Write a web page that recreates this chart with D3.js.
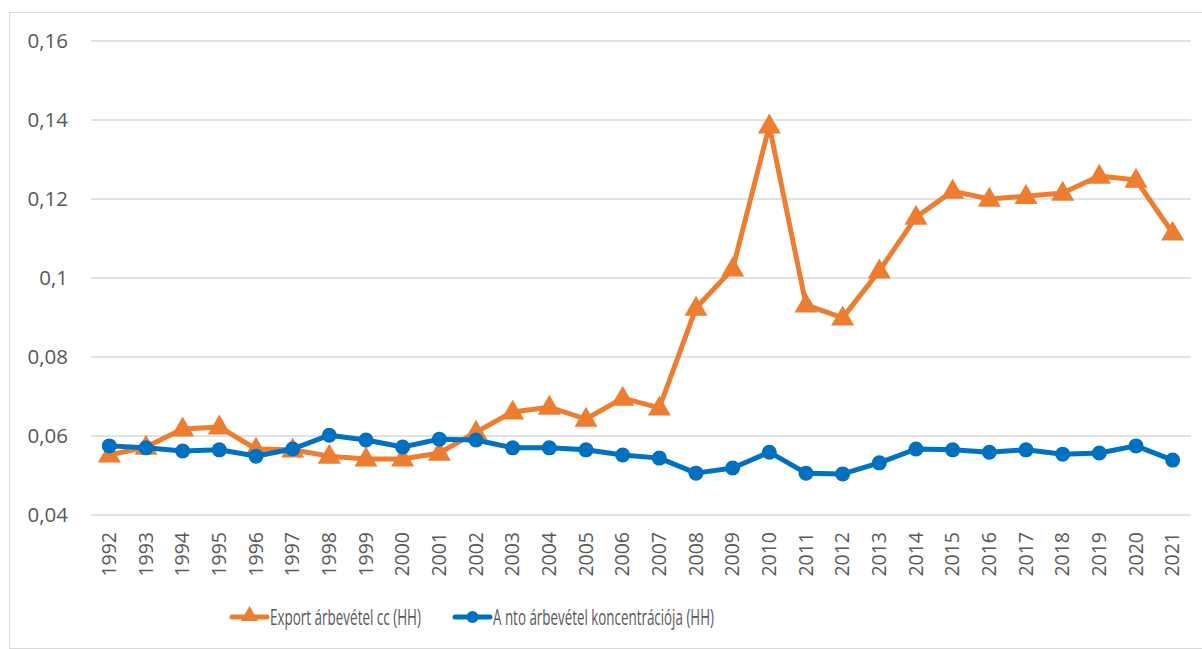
<!DOCTYPE html>
<html>
<head>
<meta charset="utf-8">
<script src="https://cdn.jsdelivr.net/npm/d3@7"></script>
<style>
  body { margin: 0; background: #fff; }
  text { font-family: "Open Sans", "Noto Sans", sans-serif; fill: #595959; }
</style>
</head>
<body>
<div id="chart"></div>
<script>
// data
var years = d3.range(1992, 2022).map(String);
var exportCC = [0.0552, 0.0572, 0.0618, 0.0623, 0.0567, 0.0565, 0.0549, 0.0542, 0.0542, 0.0557,
  0.0610, 0.0661, 0.0673, 0.0643, 0.0696, 0.0671, 0.0924, 0.1023, 0.1385, 0.0932,
  0.0899, 0.1018, 0.1154, 0.1220, 0.1200, 0.1207, 0.1215, 0.1258, 0.1248, 0.1114];
var ntoConc = [0.0575, 0.0570, 0.0562, 0.0565, 0.0549, 0.0567, 0.0602, 0.0590, 0.0572, 0.0592,
  0.0590, 0.0570, 0.0570, 0.0565, 0.0552, 0.0544, 0.0506, 0.0519, 0.0559, 0.0506,
  0.0504, 0.0532, 0.0567, 0.0565, 0.0559, 0.0565, 0.0554, 0.0557, 0.0575, 0.0539];
var yTicks = [0.04, 0.06, 0.08, 0.1, 0.12, 0.14, 0.16];
var seriesNames = ["Export árbevétel cc (HH)", "A nto árbevétel koncentrációja (HH)"];

var W = 1202, H = 649;
var margin = { top: 41, right: 11, bottom: 134, left: 91 };
var width = W - margin.left - margin.right,
  height = H - margin.top - margin.bottom;

var svg = d3.select("#chart").append("svg")
  .attr("width", W)
  .attr("height", H);

// chart border
svg.append("rect")
  .attr("x", 9.5).attr("y", 12.5)
  .attr("width", W).attr("height", H - 13)
  .attr("fill", "none")
  .attr("stroke", "#d9d9d9");

var g = svg.append("g")
  .attr("transform", "translate(" + margin.left + "," + margin.top + ")");

var x = d3.scaleBand().domain(years).range([0, width]);
var y = d3.scaleLinear().domain([0.04, 0.16]).range([height, 0]);

// gridlines
g.selectAll(".grid")
  .data(yTicks)
  .enter()
  .append("line")
  .attr("x1", 0).attr("x2", width)
  .attr("y1", d => y(d)).attr("y2", d => y(d))
  .attr("stroke", "#d9d9d9")
  .attr("stroke-width", 1.3);

// y axis
var fmt = d => String(d).replace(".", ",");
var yAxis = g.append("g")
  .call(d3.axisLeft(y).tickValues(yTicks).tickFormat(fmt).tickSize(0).tickPadding(23));
yAxis.select(".domain").remove();
yAxis.selectAll("text")
  .style("font-size", "20.5px")
  .attr("fill", "#595959");

// x axis
var xAxis = g.append("g")
  .attr("transform", "translate(0," + height + ")")
  .call(d3.axisBottom(x).tickSize(0));
xAxis.select(".domain").remove();
xAxis.selectAll("text")
  .style("font-size", "19.5px")
  .attr("fill", "#595959")
  .attr("transform", "rotate(-90)")
  .attr("text-anchor", "end")
  .attr("x", -17)
  .attr("y", 0)
  .attr("dy", "0.35em");

var cx = d => x(d) + x.bandwidth() / 2;
var line = d3.line()
  .x((d, i) => cx(years[i]))
  .y(d => y(d));

var orange = "#ED7D31", blue = "#0070C0";
var tri = d3.symbol().type(d3.symbolTriangle).size(230);

// export series
g.append("path")
  .datum(exportCC)
  .attr("d", line)
  .attr("fill", "none")
  .attr("stroke", orange)
  .attr("stroke-width", 5)
  .attr("stroke-linejoin", "round");
g.selectAll(".tri")
  .data(exportCC)
  .enter()
  .append("path")
  .attr("d", tri)
  .attr("transform", (d, i) => "translate(" + cx(years[i]) + "," + (y(d) + 1) + ")")
  .attr("fill", orange);

// nto series
g.append("path")
  .datum(ntoConc)
  .attr("d", line)
  .attr("fill", "none")
  .attr("stroke", blue)
  .attr("stroke-width", 5)
  .attr("stroke-linejoin", "round");
g.selectAll(".dot")
  .data(ntoConc)
  .enter()
  .append("circle")
  .attr("cx", (d, i) => cx(years[i]))
  .attr("cy", d => y(d))
  .attr("r", 7.5)
  .attr("fill", blue);

// legend
var legY = 617;
var leg = svg.append("g");
var legX = [232, 455];
var legW = [151, 221];
seriesNames.forEach(function (name, i) {
  var col = i === 0 ? orange : blue;
  leg.append("line")
    .attr("x1", legX[i]).attr("x2", legX[i] + 35)
    .attr("y1", legY).attr("y2", legY)
    .attr("stroke", col)
    .attr("stroke-width", 5)
    .attr("stroke-linecap", "round");
  if (i === 0) {
    leg.append("path")
      .attr("d", d3.symbol().type(d3.symbolTriangle).size(130))
      .attr("transform", "translate(" + (legX[i] + 17.5) + "," + (legY - 1) + ")")
      .attr("fill", col);
  } else {
    leg.append("circle")
      .attr("cx", legX[i] + 17.5).attr("cy", legY)
      .attr("r", 6)
      .attr("fill", col);
  }
  leg.append("text")
    .attr("x", legX[i] + 38)
    .attr("y", legY)
    .attr("dy", "0.36em")
    .attr("textLength", legW[i])
    .attr("lengthAdjust", "spacingAndGlyphs")
    .style("font-size", "22px")
    .text(name);
});
</script>
</body>
</html>
